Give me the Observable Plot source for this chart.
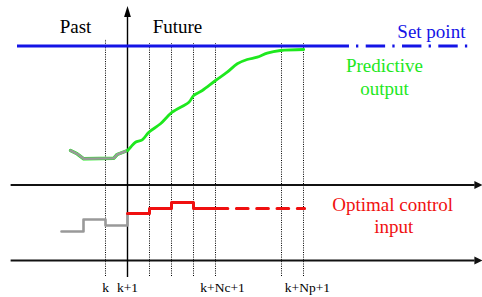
<!DOCTYPE html>
<html><head><meta charset="utf-8">
<script src="https://cdn.jsdelivr.net/npm/d3@7"></script>
<script src="https://cdn.jsdelivr.net/npm/@observablehq/plot@0.6"></script>
<style>html,body{margin:0;padding:0;background:#fff;} svg{display:block}</style>
</head><body><div id="chart"></div>
<script>
// time axis in sampling steps: 0 = k, 1 = k+1, ...
const gridSteps = [0, 2, 3, 4, 5, 8, 9];
const tickLabels = ["k", "k+1", "k+Nc+1", "k+Np+1"];
const tickLabelSteps = [0, 1, 5.32, 9.18];
const setPoint = 21.45;
const pastOutputSteps = [-1.59, -1.29, -0.99, 0.38, 0.53, 1];
const pastOutputValues = [11.0, 10.67, 10.17, 10.23, 10.6, 11.0];
const predSteps = [1, 1.14, 1.36, 1.67, 1.97, 2.5, 3.03, 3.79, 4.01, 4.4, 5.0, 5.53, 5.99, 6.44, 6.9, 7.35, 7.95, 9.01];
const predValues = [11.0, 11.33, 11.83, 12.07, 12.83, 13.67, 14.83, 15.83, 16.5, 17.0, 18.0, 18.83, 19.67, 20.1, 20.33, 20.73, 21.0, 21.1];
const pastInputSteps = [-2, -1, 0, 1, 1];
const pastInputValues = [2.9, 4.1, 3.5, 3.5, 4.7];
const optInputSteps = [1, 2, 3, 4, 5.56];
const optInputValues = [4.7, 5.2, 5.8, 5.2, 5.2];
const optTailSteps = [5.95, 9.05];
const optTailValue = 5.2;
const outputAxisLevel = 7.55;
const inputAxisLevel = 0;

const zip = (xs, ys) => xs.map((x, i) => ({x, y: ys[i]}));
const pastOut = zip(pastOutputSteps, pastOutputValues);
const pred = zip(predSteps, predValues);
const pastIn = zip(pastInputSteps, pastInputValues);
const optIn = zip(optInputSteps, optInputValues);
const optTail = optTailSteps.map(x => ({x, y: optTailValue}));

const arrowUp = {draw(ctx){ ctx.moveTo(0,0); ctx.lineTo(3.4,11); ctx.lineTo(-3.4,11); ctx.closePath(); }};
const arrowRight = {draw(ctx){ ctx.moveTo(0,0); ctx.lineTo(-8,4); ctx.lineTo(-8,-4); ctx.closePath(); }};

const BLUE = "#1414e6", GREEN = "#1ee81e", RED = "#f01010", GRAY = "#999999";
const FONT = "Liberation Serif";

const plot = Plot.plot({
  width: 482, height: 297,
  margin: 0,
  x: {domain: [-105/22, 377/22], range: [0, 482], axis: null},
  y: {domain: [-3.7, 26], range: [297, 0], axis: null},
  marks: [
    Plot.ruleX(gridSteps, {x: d => d, y1: -1.6, y2: d => d === 0 ? 22.1 : 21.7, stroke: "#000", strokeWidth: 1, strokeDasharray: "1,1.3"}),
    Plot.ruleY([outputAxisLevel, inputAxisLevel], {x1: -4.29, x2: 16.8, stroke: "#111", strokeWidth: 1.8}),
    Plot.dot([outputAxisLevel, inputAxisLevel], {x: 17.13, y: d => d, symbol: arrowRight, fill: "#111", stroke: "none"}),
    Plot.ruleX([1], {y1: -1.7, y2: 24.5, stroke: "#000", strokeWidth: 1.4}),
    Plot.dot([1], {x: d => d, y: 25.45, symbol: arrowUp, fill: "#000", stroke: "none"}),
    Plot.ruleY([setPoint], {x1: -4, x2: 11.09, stroke: BLUE, strokeWidth: 3}),
    Plot.ruleY([setPoint], {x1: 11.41, x2: 16.48, stroke: BLUE, strokeWidth: 3, strokeDasharray: "2.3,7.4,19.4,7.2"}),
    Plot.line(pastOut, {x: "x", y: "y", stroke: GREEN, strokeWidth: 3.4}),
    Plot.line(pastOut, {x: "x", y: "y", stroke: GRAY, strokeWidth: 2.6}),
    Plot.line(pred, {x: "x", y: "y", stroke: GREEN, strokeWidth: 2.8, curve: "catmull-rom"}),
    Plot.line(pastIn, {x: "x", y: "y", stroke: GRAY, strokeWidth: 2.6, curve: "step-after"}),
    Plot.line(optIn, {x: "x", y: "y", stroke: RED, strokeWidth: 3, curve: "step-after"}),
    Plot.line(optTail, {x: "x", y: "y", stroke: RED, strokeWidth: 3, strokeDasharray: "11.7,8.6"}),
    Plot.text(["Past"], {x: -1.364, y: 22.8, text: d => d, fontSize: 19, fontFamily: FONT, lineAnchor: "bottom", fill: "#000"}),
    Plot.text(["Future"], {x: 3.27, y: 22.8, text: d => d, fontSize: 19, fontFamily: FONT, lineAnchor: "bottom", fill: "#000"}),
    Plot.text(["Set point"], {x: 16.36, y: 22.28, text: d => d, fontSize: 19, fontFamily: FONT, lineAnchor: "bottom", textAnchor: "end", fill: BLUE}),
    Plot.text(["Predictive", "output"], {x: 12.68, y: (d, i) => i ? 16.55 : 18.82, text: d => d, fontSize: 19, fontFamily: FONT, lineAnchor: "bottom", fill: GREEN}),
    Plot.text(["Optimal control", "input"], {x: (d, i) => i ? 13.1 : 13.05, y: (d, i) => i ? 2.73 : 4.93, text: d => d, fontSize: 19, fontFamily: FONT, lineAnchor: "bottom", fill: RED}),
    Plot.text(tickLabels, {x: (d, i) => tickLabelSteps[i], y: -3.17, text: d => d, fontSize: 13.5, fontFamily: FONT, lineAnchor: "bottom", fill: "#000"})
  ]
});
document.getElementById("chart").appendChild(plot);
</script>
</body></html>
